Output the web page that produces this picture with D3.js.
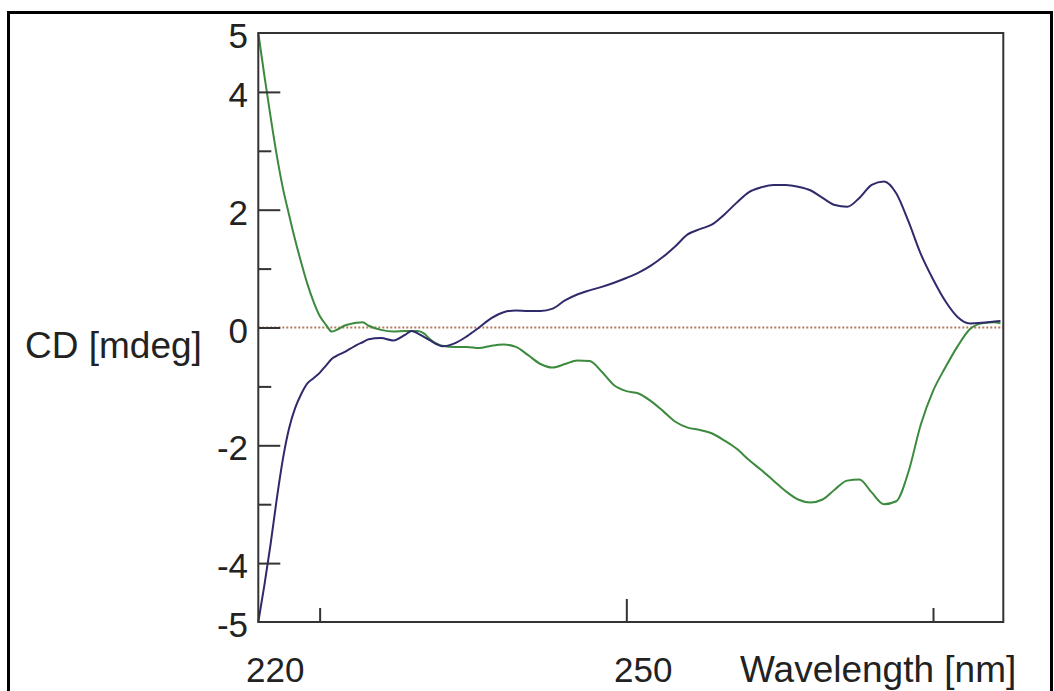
<!DOCTYPE html>
<html>
<head>
<meta charset="utf-8">
<script src="https://cdn.jsdelivr.net/npm/d3@7"></script>
<style>
  body { margin: 0; background: #fff; }
  svg { display: block; font-family: Arial, "Liberation Sans", sans-serif; }
</style>
</head>
<body>
<div id="chart"></div>
<script>
// wavelength grid (nm) shared by both spectra
const wavelength = [220, 220.5, 221, 221.5, 222, 222.5, 223, 223.5, 224, 224.5, 225, 225.5, 226, 226.5, 227, 227.5, 228, 228.5,
  229, 230, 231, 232, 232.5, 233, 233.5, 234, 234.5, 235, 236, 237, 238, 239, 240, 241, 242, 243, 244, 245, 246, 247, 248, 249,
  250, 251, 252, 253, 254, 255, 256, 257, 258, 259, 260, 261, 262, 263, 264, 265, 266, 267, 268, 269, 270, 271, 272, 273, 274,
  275, 276, 277, 278, 279, 280, 280.5];

// CD [mdeg], green trace
const cdGreen = [5.0, 4.27, 3.58, 2.93, 2.37, 1.92, 1.49, 1.10, 0.74, 0.44, 0.20, 0.05, -0.07, -0.03, 0.03, 0.06, 0.08, 0.09,
  0.03, -0.04, -0.07, -0.06, -0.06, -0.06, -0.1, -0.2, -0.27, -0.31, -0.33, -0.33, -0.35, -0.31, -0.29, -0.33, -0.47, -0.62, -0.68,
  -0.62, -0.56, -0.57, -0.75, -0.98, -1.08, -1.12, -1.25, -1.42, -1.6, -1.7, -1.74, -1.8, -1.92, -2.06, -2.25, -2.42, -2.6, -2.78,
  -2.92, -2.97, -2.92, -2.75, -2.6, -2.58, -2.8, -3.0, -2.95, -2.45, -1.65, -1.08, -0.68, -0.32, -0.03, 0.07, 0.09, 0.07];

// CD [mdeg], navy trace
const cdNavy = [-5.0, -4.37, -3.68, -2.92, -2.24, -1.72, -1.37, -1.13, -0.95, -0.86, -0.77, -0.65, -0.53, -0.47, -0.42, -0.36, -0.3, -0.25,
  -0.2, -0.18, -0.22, -0.12, -0.06, -0.1, -0.16, -0.22, -0.28, -0.32, -0.27, -0.15, 0.0, 0.16, 0.26, 0.29, 0.28, 0.28, 0.32,
  0.46, 0.56, 0.63, 0.69, 0.76, 0.84, 0.93, 1.05, 1.2, 1.38, 1.58, 1.67, 1.75, 1.92, 2.12, 2.3, 2.38, 2.42, 2.42,
  2.39, 2.33, 2.2, 2.08, 2.05, 2.2, 2.42, 2.48, 2.28, 1.8, 1.25, 0.82, 0.45, 0.18, 0.07, 0.08, 0.1, 0.11];

const yMajor = [-4, -2, 0, 2, 4];
const yMinor = [-3, -1, 1, 3];
const yLabels = [-5, -4, -2, 0, 2, 4, 5];
const xMajor = [250];
const xMinor = [225, 275];
const xLabels = [220, 250];

const width = 1054, height = 691;
const plotLeft = 258.3, plotRight = 1003.3, plotTop = 33, plotBottom = 622;

const svg = d3.select('#chart').append('svg')
  .attr('width', width)
  .attr('height', height);

const x = d3.scaleLinear().domain([220, 280.73]).range([plotLeft, plotRight]);
const y = d3.scaleLinear().domain([-5, 5]).range([plotBottom, plotTop]);

// outer frame
svg.append('rect')
  .attr('x', 8.5).attr('y', 12.5)
  .attr('width', 1043).attr('height', 700)
  .attr('fill', 'none').attr('stroke', '#000').attr('stroke-width', 3);

// zero line, dotted
svg.append('line')
  .attr('x1', plotLeft).attr('x2', plotRight)
  .attr('y1', y(0)).attr('y2', y(0))
  .attr('stroke', '#b07a5e').attr('stroke-width', 2)
  .attr('stroke-dasharray', '2,2');

// spectra
const line = (vals) => d3.line()
  .x((d, i) => x(wavelength[i]))
  .y(d => y(d))
  .curve(d3.curveMonotoneX)(vals);

svg.append('path').attr('d', line(cdGreen))
  .attr('fill', 'none').attr('stroke', '#3b8a3d').attr('stroke-width', 2);
svg.append('path').attr('d', line(cdNavy))
  .attr('fill', 'none').attr('stroke', '#2f2a6b').attr('stroke-width', 2);

// inward ticks
function tickAxis(axis, transform, size) {
  const g = svg.append('g').attr('transform', transform)
    .call(axis.tickSize(size).tickFormat(''));
  g.select('.domain').remove();
  g.selectAll('.tick line').attr('stroke', '#333').attr('stroke-width', 2);
}
tickAxis(d3.axisRight(y).tickValues(yMajor), `translate(${plotLeft},0)`, 22);
tickAxis(d3.axisRight(y).tickValues(yMinor), `translate(${plotLeft},0)`, 13);
tickAxis(d3.axisTop(x).tickValues(xMajor), `translate(0,${plotBottom})`, 23);
tickAxis(d3.axisTop(x).tickValues(xMinor), `translate(0,${plotBottom})`, 14);

// plot box
svg.append('rect')
  .attr('x', plotLeft).attr('y', plotTop)
  .attr('width', plotRight - plotLeft).attr('height', plotBottom - plotTop)
  .attr('fill', 'none').attr('stroke', '#333').attr('stroke-width', 2);

// tick labels
svg.append('g').selectAll('text').data(yLabels).join('text')
  .attr('x', 248).attr('y', d => y(d) + 15)
  .attr('text-anchor', 'end')
  .attr('font-size', 35).attr('fill', '#222')
  .text(d => d);

svg.append('g').selectAll('text').data(xLabels).join('text')
  .attr('x', d => x(d) + 17).attr('y', 682)
  .attr('text-anchor', 'middle')
  .attr('font-size', 35).attr('fill', '#222')
  .text(d => d);

// axis titles
svg.append('text').attr('x', 25).attr('y', 358)
  .attr('font-size', 37).attr('fill', '#222')
  .text('CD [mdeg]');
svg.append('text').attr('x', 740).attr('y', 682)
  .attr('font-size', 37).attr('fill', '#222')
  .text('Wavelength [nm]');
</script>
</body>
</html>
